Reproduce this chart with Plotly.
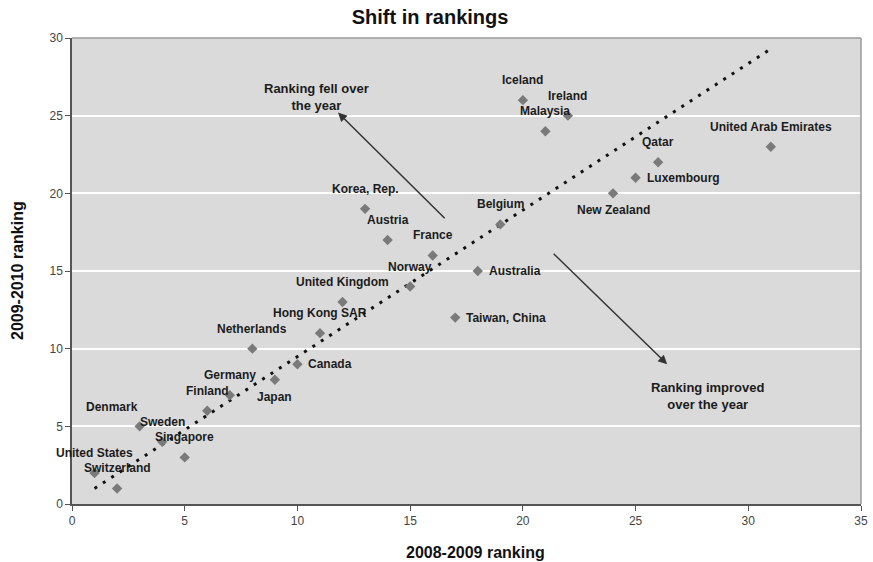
import plotly.graph_objects as go

# Competitiveness rankings: position in 2008-2009 vs 2009-2010
countries = [
    "United States", "Switzerland", "Denmark", "Sweden", "Singapore",
    "Finland", "Germany", "Netherlands", "Japan", "Canada",
    "Hong Kong SAR", "United Kingdom", "Korea, Rep.", "Austria", "Norway",
    "France", "Taiwan, China", "Australia", "Belgium", "Iceland",
    "Malaysia", "Ireland", "New Zealand", "Luxembourg", "Qatar",
    "United Arab Emirates",
]
rank_2008 = [1, 2, 3, 4, 5, 6, 7, 8, 9, 10, 11, 12, 13, 14, 15, 16, 17, 18,
             19, 20, 21, 22, 24, 25, 26, 31]
rank_2009 = [2, 1, 5, 4, 3, 6, 7, 10, 8, 9, 11, 13, 19, 17, 14, 16, 12, 15,
             18, 26, 24, 25, 20, 21, 22, 23]

# Dotted guide separating improved from worsened rankings
guide_x = [1, 31]
guide_y = [1, 29.3]

x_ticks = [0, 5, 10, 15, 20, 25, 30, 35]
y_ticks = [0, 5, 10, 15, 20, 25, 30]

# Where each country name sits relative to its marker
label_side = {
    "Japan": "below", "New Zealand": "below",
    "Canada": "right", "Australia": "right", "Taiwan, China": "right",
    "Luxembourg": "right", "Denmark": "upleft",
}
side_style = {
    "above": dict(xanchor="center", xshift=0, yshift=20),
    "below": dict(xanchor="center", xshift=0, yshift=-17),
    "right": dict(xanchor="left", xshift=9, yshift=0),
    "upleft": dict(xanchor="center", xshift=-28, yshift=19),
}

FONT = "Liberation Sans, Arial, sans-serif"

fig = go.Figure()

fig.add_trace(go.Scatter(
    x=guide_x, y=guide_y, mode="lines",
    line=dict(color="#111111", width=3, dash="3px,7px"),
    hoverinfo="skip", showlegend=False,
))

fig.add_trace(go.Scatter(
    x=rank_2008, y=rank_2009, mode="markers",
    marker=dict(symbol="diamond", size=8, color="#7a7a7a",
                line=dict(width=0)),
    text=countries, showlegend=False,
))

annotations = []
for name, xv, yv in zip(countries, rank_2008, rank_2009):
    st = side_style[label_side.get(name, "above")]
    annotations.append(dict(
        x=xv, y=yv, xref="x", yref="y", text=name, showarrow=False,
        xanchor=st["xanchor"], yanchor="middle",
        xshift=st["xshift"], yshift=st["yshift"],
        font=dict(family=FONT, size=12, color="#1c1c1c", weight="bold"),
    ))

# Direction arrows and their captions
arrow_style = dict(showarrow=True, arrowhead=2, arrowsize=1.2, arrowwidth=1.5,
                   arrowcolor="#333333", xref="x", yref="y",
                   axref="x", ayref="y", text="")
annotations.append(dict(x=11.8, y=25.2, ax=16.6, ay=18.3, **arrow_style))
annotations.append(dict(x=26.4, y=9.0, ax=21.3, ay=16.2, **arrow_style))

caption_font = dict(family=FONT, size=13, color="#1c1c1c", weight="bold")
annotations.append(dict(x=10.85, y=26.2, xref="x", yref="y",
                        text="Ranking fell over<br>the year", showarrow=False,
                        font=caption_font, align="center"))
annotations.append(dict(x=28.2, y=6.95, xref="x", yref="y",
                        text="Ranking improved<br>over the year",
                        showarrow=False, font=caption_font, align="center"))

# Axis titles
axis_title_font = dict(family=FONT, size=16, color="#111111", weight="bold")
annotations.append(dict(x=0.512, y=0, xref="paper", yref="paper",
                        yshift=-48, yanchor="middle", xanchor="center",
                        text="2008-2009 ranking", showarrow=False,
                        font=axis_title_font))
annotations.append(dict(x=0, y=0.5, xref="paper", yref="paper",
                        xshift=-55, xanchor="center", yanchor="middle",
                        textangle=-90, text="2009-2010 ranking",
                        showarrow=False, font=axis_title_font))

fig.update_layout(
    width=873, height=562,
    margin=dict(l=72, r=12, t=38, b=58),
    paper_bgcolor="white",
    plot_bgcolor="#dadada",
    title=dict(text="Shift in rankings", x=0.4926, xanchor="center",
               y=0.97, yanchor="middle", yref="container",
               font=dict(family=FONT, size=20, color="#111111",
                         weight="bold")),
    annotations=annotations,
    showlegend=False,
)

fig.update_xaxes(
    range=[0, 35], tickvals=x_ticks, showgrid=False, zeroline=False,
    automargin=False,
    showline=True, linecolor="#555555", linewidth=1.5, mirror=False,
    ticks="outside", ticklen=5, tickcolor="#555555",
    tickfont=dict(family=FONT, size=12, color="#444444"),
)
fig.update_yaxes(
    range=[0, 30], tickvals=y_ticks, showgrid=True, gridcolor="white",
    gridwidth=1.5, zeroline=False, automargin=False,
    showline=True, linecolor="#555555", linewidth=1.5, mirror=False,
    ticks="outside", ticklen=5, tickcolor="#555555",
    tickfont=dict(family=FONT, size=12, color="#444444"),
)

# Thin frame on the top and right of the plotting area
fig.add_shape(type="line", xref="paper", yref="paper", x0=0, x1=1, y0=1, y1=1,
              line=dict(color="#9a9a9a", width=1.5))
fig.add_shape(type="line", xref="paper", yref="paper", x0=1, x1=1, y0=0, y1=1,
              line=dict(color="#9a9a9a", width=1.5))

fig.write_html("out.html")
